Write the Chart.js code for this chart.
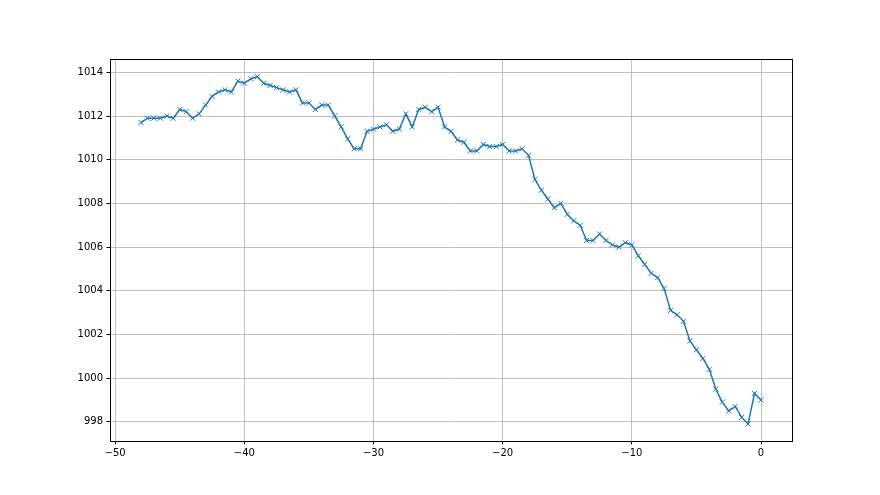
<!DOCTYPE html>
<html>
<head>
<meta charset="utf-8">
<script src="https://cdn.jsdelivr.net/npm/chart.js@4/dist/chart.umd.min.js"></script>
<style>
html,body{margin:0;padding:0;background:#fff;}
#wrap{width:880px;height:495px;}
</style>
</head>
<body>
<div id="wrap"><canvas id="c" width="880" height="495"></canvas></div>
<script>
const hours = [-48,-47.5,-47,-46.5,-46,-45.5,-45,-44.5,-44,-43.5,-43,-42.5,-42,-41.5,-41,-40.5,-40,-39.5,-39,-38.5,-38,-37.5,-37,-36.5,-36,-35.5,-35,-34.5,-34,-33.5,-33,-32.5,-32,-31.5,-31,-30.5,-30,-29.5,-29,-28.5,-28,-27.5,-27,-26.5,-26,-25.5,-25,-24.5,-24,-23.5,-23,-22.5,-22,-21.5,-21,-20.5,-20,-19.5,-19,-18.5,-18,-17.5,-17,-16.5,-16,-15.5,-15,-14.5,-14,-13.5,-13,-12.5,-12,-11.5,-11,-10.5,-10,-9.5,-9,-8.5,-8,-7.5,-7,-6.5,-6,-5.5,-5,-4.5,-4,-3.5,-3,-2.5,-2,-1.5,-1,-0.5,0];
const pressure = [1011.7,1011.9,1011.9,1011.9,1012.0,1011.9,1012.3,1012.2,1011.9,1012.1,1012.5,1012.9,1013.1,1013.2,1013.1,1013.6,1013.5,1013.7,1013.8,1013.5,1013.4,1013.3,1013.2,1013.1,1013.2,1012.6,1012.6,1012.3,1012.5,1012.5,1012.0,1011.5,1010.95,1010.5,1010.5,1011.3,1011.4,1011.5,1011.6,1011.3,1011.4,1012.1,1011.5,1012.3,1012.4,1012.2,1012.4,1011.5,1011.3,1010.9,1010.8,1010.4,1010.4,1010.7,1010.6,1010.6,1010.7,1010.4,1010.4,1010.5,1010.2,1009.1,1008.6,1008.2,1007.8,1008.0,1007.5,1007.2,1007.0,1006.3,1006.3,1006.6,1006.3,1006.1,1006.0,1006.2,1006.1,1005.6,1005.2,1004.8,1004.6,1004.1,1003.1,1002.9,1002.6,1001.7,1001.3,1000.9,1000.4,999.5,998.9,998.5,998.7,998.2,997.9,999.3,999.0];
const xTicks = [-50,-40,-30,-20,-10,0];
const yTicks = [998,1000,1002,1004,1006,1008,1010,1012,1014];

const points = hours.map((h,i)=>({x:h,y:pressure[i]}));
const fmt = v => (v<0 ? '\u2212'+Math.abs(v) : String(v));

const frame = {
  id:'frame',
  afterDraw(chart){
    const a = chart.chartArea, ctx = chart.ctx;
    ctx.save();
    ctx.strokeStyle = '#000';
    ctx.lineWidth = 1;
    ctx.strokeRect(Math.round(a.left)+0.5, Math.round(a.top)+0.5, Math.round(a.right-a.left), Math.round(a.bottom-a.top));
    ctx.restore();
  }
};

new Chart(document.getElementById('c'), {
  type:'line',
  data:{datasets:[{
    data:points,
    borderColor:'#1f77b4',
    backgroundColor:'#1f77b4',
    borderWidth:1.5,
    tension:0,
    fill:false,
    pointStyle:'crossRot',
    pointRadius:3.6,
    pointHoverRadius:3.6,
    pointBorderWidth:1,
    pointBorderColor:'#1f77b4'
  }]},
  options:{
    responsive:false,
    animation:false,
    events:[],
    layout:{padding:{top:59,right:88,left:0,bottom:0}},
    plugins:{legend:{display:false},tooltip:{enabled:false}},
    scales:{
      x:{
        type:'linear',
        min:-50.4, max:2.4,
        afterBuildTicks(s){ s.ticks = xTicks.map(v=>({value:v})); },
        afterFit(s){ s.height = 54; },
        grid:{color:'#b0b0b0',lineWidth:0.8,drawTicks:true,tickLength:3.5,tickColor:'#000',tickWidth:1},
        border:{display:true,color:'#000',width:1},
        ticks:{color:'#000',font:{family:'DejaVu Sans',size:10},padding:3,maxRotation:0,autoSkip:false,callback:v=>fmt(v)}
      },
      y:{
        type:'linear',
        min:997.12, max:1014.61,
        afterBuildTicks(s){ s.ticks = yTicks.map(v=>({value:v})); },
        afterFit(s){ s.width = 110; },
        grid:{color:'#b0b0b0',lineWidth:0.8,drawTicks:true,tickLength:3.5,tickColor:'#000',tickWidth:1},
        border:{display:true,color:'#000',width:1},
        ticks:{color:'#000',font:{family:'DejaVu Sans',size:10},padding:3.5,autoSkip:false,callback:v=>fmt(v)}
      }
    }
  },
  plugins:[frame]
});
</script>
</body>
</html>
